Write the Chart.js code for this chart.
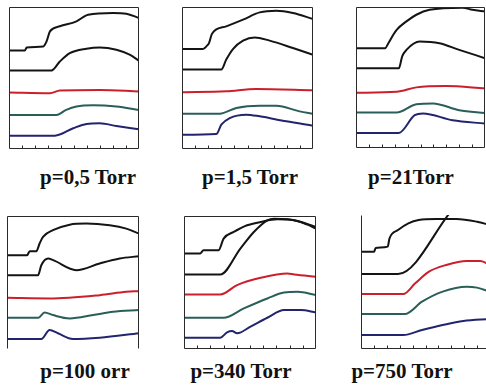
<!DOCTYPE html>
<html>
<head>
<meta charset="utf-8">
<script src="https://cdn.jsdelivr.net/npm/chart.js@4.4.1/dist/chart.umd.min.js"></script>
<style>
  html, body { margin: 0; padding: 0; background: #fff; }
  #wrap { position: relative; width: 486px; height: 390px; overflow: hidden; }
  canvas { position: absolute; }
  .lbl {
    position: absolute;
    font-family: "Liberation Serif", "Times New Roman", serif;
    font-weight: bold;
    font-size: 21px;
    line-height: 21px;
    color: #111;
    white-space: nowrap;
    transform: translateX(-50%);
  }
</style>
</head>
<body>
<div id="wrap"></div>
<script>
// x: 0..100 across each panel, y: 0..100 from bottom to top

// p=0,5 Torr
const p1Black1 = [[0,69.4],[12.3,69.4],[13.6,71.5],[26.3,72.2],[28.9,75.8],[31.5,82.8],[39.1,86.4],[51.9,89.9],[60.9,94.6],[80,95.8],[90.3,95.3],[100,92.2]];
const p1Black2 = [[0,55.3],[32.7,55.3],[39.1,61.6],[46.8,67.5],[59.6,70.6],[69.8,71.5],[82.6,69.9],[92.8,66.4],[100,62.1]];
const p1Red    = [[0,39.8],[31.5,39.3],[39.1,41.2],[69.8,41.6],[100,40.5]];
const p1Teal   = [[0,24],[36.6,24],[44,27.5],[51.9,29.9],[64.7,30.8],[82.6,29.9],[100,27.5]];
const p1Blue   = [[0,9.4],[35.3,9.4],[49.4,14.6],[59.6,17.6],[69.8,18.1],[82.6,16.2],[100,13.9]];

// p=1,5 Torr
const p2Black1 = [[0,70.4],[16,70.4],[19.1,72.8],[20.6,74.6],[22.9,81.2],[33.8,86.4],[46.6,91.1],[59.3,96.2],[72,97.4],[84.7,95.8],[100,91.5]];
const p2Black2 = [[0,55.9],[30,55.9],[33.8,63],[38.9,70.4],[46.6,76.3],[55.5,78.6],[66.9,76.3],[84.7,71.1],[100,66.4]];
const p2Red    = [[0,39.9],[33.8,40.6],[56.5,42.3],[100,41.3]];
const p2Teal   = [[0,24.9],[28.8,24.9],[41.5,28.9],[59.3,30.5],[72,30.5],[89.8,26.5],[100,24.9]];
const p2Blue   = [[0,10.1],[26.2,10.6],[30,17.1],[36.4,21.8],[49.1,24.2],[59.3,23],[79.6,19.5],[100,16.4]];

// p=21 Torr
const p3Black1 = [[0,70.8],[22.5,70.8],[25.1,74.3],[28.9,80.3],[31.5,83.8],[39.1,89.8],[46.8,94.5],[57,98],[82.6,99.5],[90.3,98],[100,96.9]];
const p3Black2 = [[0,56.5],[33.2,56.5],[35.8,65],[39.1,69.6],[49.4,75.5],[64.7,74.3],[80,69.6],[100,63.7]];
const p3Red    = [[0,39.2],[31.5,39.9],[46.8,43],[69.8,43.9],[100,42.3]];
const p3Teal   = [[0,25.2],[31.5,25.2],[46.8,31.1],[59.6,31.6],[80,26.8],[100,24.9]];
const p3Blue   = [[0,10.7],[33.2,10.7],[45.5,23.3],[51.9,24.5],[74.9,19.7],[100,17.3]];

// p=100 orr
const p4Black1 = [[0,70.5],[15.2,70.5],[17.2,73.5],[22.2,73.5],[24.7,79.3],[27.3,84.3],[34.8,89.3],[47.5,93.5],[60.1,94.3],[77.8,93],[90.4,90.5],[100,86.8]];
const p4Black2 = [[0,55.5],[23.5,55.5],[26,63],[31.1,68],[35,66.8],[52.5,59.3],[70.2,64.3],[85.4,68],[100,69.8]];
const p4Red    = [[0,38.5],[32.3,38],[70.2,40.5],[90.4,43],[100,43.5]];
const p4Teal   = [[0,23.5],[23.7,23.5],[28.5,27.5],[34.8,25.5],[47.5,23],[65.2,25.5],[80.3,28],[100,29.3]];
const p4Blue   = [[0,7.5],[26,7.5],[32.3,14.3],[38.6,11.8],[50,7.5],[70.2,8.5],[100,11.8]];

// p=340 Torr
const p5Black1 = [[0,71.8],[12.2,71.8],[14.8,74.3],[26.2,74.3],[30,83],[37.7,88],[47.8,93],[58,95.5],[70.7,97.5],[83.5,96.8],[93.6,93.5],[100,90.5]];
const p5Black2 = [[0,56],[27.5,56],[42.7,75.5],[52.9,88],[63.1,96.8],[68.2,98],[78.4,97.5],[88.5,95.5],[100,91.8]];
const p5Red    = [[0,41],[27.5,41],[40.2,48],[58,53.5],[78.4,56.8],[83.5,56],[100,54.3]];
const p5Teal   = [[0,23.5],[30,23.5],[45.3,30.5],[63.1,38],[75.8,42.5],[86,43],[100,40.5]];
const p5Blue   = [[0,8.5],[27.5,8.5],[32.6,12.5],[36.4,13.5],[40.2,11.8],[50.4,16.8],[63.1,23.5],[75.8,29.3],[88.5,29.3],[100,27.5]];

// p=750 Torr
const p6Black1 = [[0,72.6],[10.1,72.6],[11.4,75.4],[20.7,76.4],[22.1,82.6],[28.7,88.8],[36.7,93.8],[44.7,96.3],[58,97],[74,97],[89.9,95],[100,92.5]];
const p6Black2 = [[0,56],[28.7,56],[70,103]];
const p6Red    = [[0,41],[32.7,41],[42,49],[52.7,57.7],[66,62.7],[81.9,65.7],[92.6,65.7],[100,62.7]];
const p6Teal   = [[0,26.1],[34,26.1],[47.3,35.3],[63.3,42.8],[81.9,46.5],[89.9,45.8],[100,42.8]];
const p6Blue   = [[0,10.4],[32.7,10.4],[47.3,14.2],[63.3,17.9],[79.3,20.9],[100,22.4]];

const labels = ['p=0,5 Torr', 'p=1,5 Torr', 'p=21Torr', 'p=100 orr', 'p=340 Torr', 'p=750 Torr'];
const xTicks = [10, 20, 30, 40, 50, 60, 70, 80, 90];

const colors = ['#141414', '#141414', '#cc1f2c', '#2a5e58', '#22246e'];

// panel boxes: left, top, right, bottom, which frame sides, ticks
const panels = [
  { box: [9, 7, 139, 149], sides: 'ltrb', ticks: true, series: [p1Black1, p1Black2, p1Red, p1Teal, p1Blue], lbl: [88, 167] },
  { box: [182, 7, 313, 149], sides: 'ltrb', ticks: true, series: [p2Black1, p2Black2, p2Red, p2Teal, p2Blue], lbl: [250, 167] },
  { box: [356, 7, 485, 148], sides: 'ltrb', ticks: true, series: [p3Black1, p3Black2, p3Red, p3Teal, p3Blue], lbl: [411, 167] },
  { box: [7, 216, 139, 349], sides: 'ltr', ticks: false, series: [p4Black1, p4Black2, p4Red, p4Teal, p4Blue], lbl: [85, 361] },
  { box: [184, 216, 316, 349], sides: 'ltrb', ticks: true, series: [p5Black1, p5Black2, p5Red, p5Teal, p5Blue], lbl: [241, 361] },
  { box: [361, 215, 490, 349], sides: 'lb', ticks: true, series: [p6Black1, p6Black2, p6Red, p6Teal, p6Blue], lbl: [402, 361] }
];

const framePlugin = {
  id: 'frame',
  afterDraw(chart, args, opts) {
    const { ctx, chartArea: a, scales } = chart;
    ctx.save();
    ctx.strokeStyle = '#2a2a2a';
    ctx.lineWidth = 1;
    ctx.beginPath();
    const L = Math.round(a.left) + 0.5, R = Math.round(a.right) - 0.5;
    const T = Math.round(a.top) + 0.5, B = Math.round(a.bottom) - 0.5;
    if (opts.sides.includes('l')) { ctx.moveTo(L, T); ctx.lineTo(L, B); }
    if (opts.sides.includes('t')) { ctx.moveTo(L, T); ctx.lineTo(R, T); }
    if (opts.sides.includes('r')) { ctx.moveTo(R, T); ctx.lineTo(R, B); }
    if (opts.sides.includes('b')) { ctx.moveTo(L, B); ctx.lineTo(R, B); }
    if (opts.ticks) {
      xTicks.forEach(v => {
        const x = Math.round(scales.x.getPixelForValue(v)) + 0.5;
        ctx.moveTo(x, B);
        ctx.lineTo(x, B - 3);
      });
    }
    ctx.stroke();
    ctx.restore();
  }
};

const wrap = document.getElementById('wrap');
const PAD = 3;

panels.forEach((p, i) => {
  const [l, t, r, b] = p.box;
  const cv = document.createElement('canvas');
  cv.style.left = (l - PAD) + 'px';
  cv.style.top = (t - PAD) + 'px';
  cv.style.width = (r - l + 2 * PAD) + 'px';
  cv.style.height = (b - t + 2 * PAD) + 'px';
  cv.width = r - l + 2 * PAD;
  cv.height = b - t + 2 * PAD;
  wrap.appendChild(cv);

  new Chart(cv.getContext('2d'), {
    type: 'line',
    data: {
      datasets: p.series.map((s, k) => ({
        data: s.map(([x, y]) => ({ x, y })),
        borderColor: colors[k],
        borderWidth: 2,
        pointRadius: 0,
        cubicInterpolationMode: 'monotone',
        fill: false
      }))
    },
    options: {
      responsive: false,
      animation: false,
      layout: { padding: PAD },
      plugins: {
        legend: { display: false },
        tooltip: { enabled: false },
        frame: { sides: p.sides, ticks: p.ticks }
      },
      scales: {
        x: { type: 'linear', min: 0, max: 100, display: false },
        y: { min: 0, max: 100, display: false }
      }
    },
    plugins: [framePlugin]
  });

  const d = document.createElement('div');
  d.className = 'lbl';
  d.textContent = labels[i];
  d.style.left = p.lbl[0] + 'px';
  d.style.top = p.lbl[1] + 'px';
  wrap.appendChild(d);
});
</script>
</body>
</html>
